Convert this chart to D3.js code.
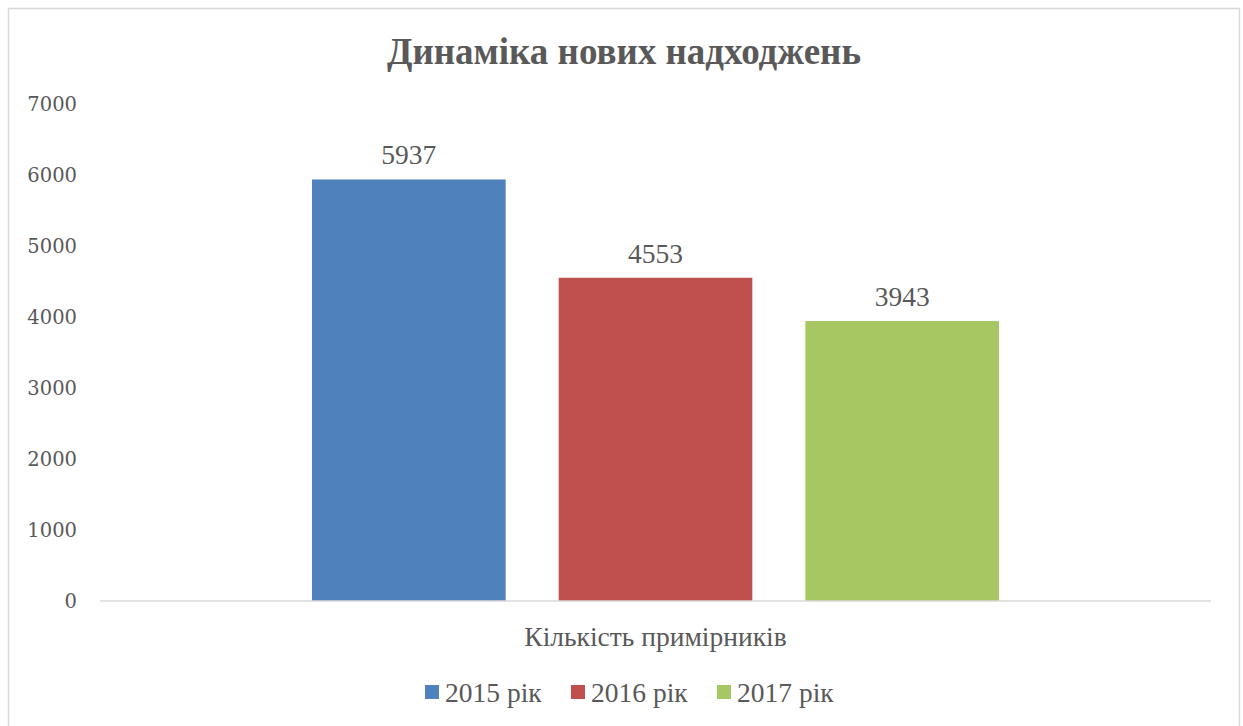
<!DOCTYPE html>
<html>
<head>
<meta charset="utf-8">
<script src="https://cdn.jsdelivr.net/npm/d3@7"></script>
<style>
  body { margin: 0; background: #fff; }
  text { font-family: "Liberation Serif", "DejaVu Serif", serif; fill: #595959; }
</style>
</head>
<body>
<div class="svg-container"></div>
<script>
const categories = ["Кількість примірників"];
const seriesNames = ["2015 рік", "2016 рік", "2017 рік"];
const seriesValues = [5937, 4553, 3943];
const colors = ["#4f81bd", "#c0504d", "#a6c761"];
const yTicks = [0, 1000, 2000, 3000, 4000, 5000, 6000, 7000];

const W = 1243, H = 726;
const margin = {top: 104, right: 32, bottom: 125, left: 100};
const width = W - margin.left - margin.right;
const height = H - margin.top - margin.bottom;

const svg = d3.select('.svg-container')
    .append('svg')
    .attr('width', W)
    .attr('height', H);

// chart frame
svg.append('rect')
    .attr('x', 8.5).attr('y', 8.5)
    .attr('width', 1231).attr('height', 730)
    .attr('fill', 'none')
    .attr('stroke', '#d9d9d9')
    .attr('stroke-width', 1.5);

svg.append('text')
    .attr('x', 624).attr('y', 64)
    .attr('text-anchor', 'middle')
    .style('font-size', '37px')
    .style('font-weight', 'bold')
    .text('Динаміка нових надходжень');

const g = svg.append('g')
    .attr('transform', `translate(${margin.left}, ${margin.top})`);

const x0 = d3.scaleBand()
    .domain(categories)
    .range([0, width]);

const x1 = d3.scaleBand()
    .domain(seriesNames)
    .range([212, 899])
    .paddingInner(0.215);

const y = d3.scaleLinear()
    .domain([0, 7000])
    .range([height, 0]);

// y tick labels (no axis line in the original)
g.selectAll('.ytick')
    .data(yTicks)
    .enter().append('text')
      .attr('class', 'ytick')
      .attr('x', -23)
      .attr('y', d => y(d))
      .attr('dy', '0.35em')
      .attr('text-anchor', 'end')
      .style('font-family', '"DejaVu Serif", serif')
      .style('font-size', '19.5px')
      .text(d => d);

const bars = g.selectAll('.bar')
    .data(seriesNames.map((s, i) => ({name: s, value: seriesValues[i], color: colors[i]})))
    .enter();

bars.append('rect')
    .attr('x', d => x0(categories[0]) + x1(d.name))
    .attr('y', d => y(d.value))
    .attr('width', x1.bandwidth())
    .attr('height', d => height - y(d.value))
    .attr('fill', d => d.color);

bars.append('text')
    .attr('x', d => x0(categories[0]) + x1(d.name) + x1.bandwidth() / 2)
    .attr('y', d => y(d.value) - 15)
    .attr('text-anchor', 'middle')
    .style('font-size', '27.5px')
    .text(d => d.value);

// baseline
g.append('line')
    .attr('x1', 0).attr('x2', width)
    .attr('y1', height).attr('y2', height)
    .attr('stroke', '#d9d9d9')
    .attr('stroke-width', 1.5);

g.append('text')
    .attr('x', x0(categories[0]) + x0.bandwidth() / 2)
    .attr('y', height + 45)
    .attr('text-anchor', 'middle')
    .style('font-size', '27.5px')
    .text(categories[0]);

// legend
const legendX = [425, 571, 717];
const legend = svg.selectAll('.legend')
    .data(seriesNames)
    .enter().append('g')
      .attr('class', 'legend')
      .attr('transform', (d, i) => `translate(${legendX[i]}, 692)`);

legend.append('rect')
    .attr('x', 0).attr('y', -7)
    .attr('width', 14).attr('height', 14)
    .attr('fill', (d, i) => colors[i]);

legend.append('text')
    .attr('x', 20)
    .attr('dy', '0.35em')
    .style('font-size', '27.5px')
    .text(d => d);
</script>
</body>
</html>
